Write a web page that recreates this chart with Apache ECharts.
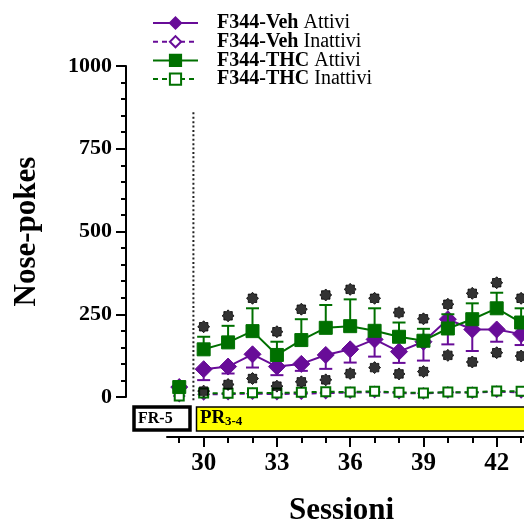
<!DOCTYPE html>
<html><head><meta charset="utf-8">
<script src="https://cdn.jsdelivr.net/npm/echarts@6/dist/echarts.min.js"></script>
<style>html,body{margin:0;padding:0;background:#fff}#c{width:524px;height:524px}</style>
</head><body><div id="c"></div>
<script>
// ---- data ----
const sessions      = [29, 30, 31, 32, 33, 34, 35, 36, 37, 38, 39, 40, 41, 42, 43];
const vehActive     = [30, 84, 92, 129, 92, 100, 127, 144, 174, 137, 167, 235, 204, 204, 190];
const vehActiveSem  = [0, 33, 21, 40, 26, 21, 42, 40, 52, 34, 57, 76, 65, 37, 33];
const vehInactive   = [3, 8, 9, 10, 9, 10, 12, 13, 15, 12, 11, 14, 13, 16, 14];
const thcActive     = [30, 144, 165, 199, 127, 172, 209, 214, 200, 182, 170, 207, 235, 268, 225];
const thcActiveSem  = [0, 38, 50, 69, 40, 63, 69, 81, 68, 43, 36, 43, 48, 47, 43];
const thcInactive   = [3, 12, 11, 13, 12, 14, 16, 15, 17, 14, 12, 15, 14, 18, 17];
const vehSignif     = [0, 1, 1, 1, 1, 1, 1, 1, 1, 1, 1, 1, 1, 1, 1];
const thcSignif     = [0, 1, 1, 1, 1, 1, 1, 1, 1, 1, 1, 1, 1, 1, 1];
const sessionTicks  = ['29','30','31','32','33','34','35','36','37','38','39','40','41','42','43','44','45'];
const majorTicks    = ['30','33','36','39','42','45'];
const phaseBoundary = [29.58, 860, -12];   // session, top, bottom of the dotted divider
const seriesNames   = ['F344-Veh Attivi', 'F344-Veh Inattivi', 'F344-THC Attivi', 'F344-THC Inattivi'];

const PURPLE = '#680C98', GREEN = '#007000';
const FONT = "'Liberation Serif','Times New Roman',serif";
const STAR = 'path://M10,0L12.9,3L17.07,2.93L17,7.1L20,10L17,12.9L17.07,17.07L12.9,17L10,20L7.1,17L2.93,17.07L3,12.9L0,10L3,7.1L2.93,2.93L7.1,3Z';

function pairs(vals, from, to) {
  const out = [];
  for (let i = 0; i < sessions.length; i++) {
    if (sessions[i] >= from && sessions[i] <= to) out.push([sessions[i], vals[i]]);
  }
  return out;
}

function lineSeries(name, vals, color, symbol, size, filled, dashed, z) {
  const base = {
    type: 'line', name: name, xAxisIndex: 0, yAxisIndex: 0, z: z,
    symbol: symbol, symbolSize: size, showSymbol: true,
    lineStyle: { color: color, width: 2, type: dashed ? [5, 4] : 'solid' },
    itemStyle: filled ? { color: color, borderColor: color, borderWidth: 1 }
                      : { color: '#fff', borderColor: color, borderWidth: 2 },
    emphasis: { disabled: true }, animation: false
  };
  return [
    Object.assign({}, base, { data: pairs(vals, 29, 29) }),
    Object.assign({}, base, { data: pairs(vals, 30, 99) })
  ];
}

function errSeries(means, sems, dir, color, z) {
  const data = [];
  for (let i = 0; i < sessions.length; i++) {
    if (sems[i] > 0) data.push([sessions[i], means[i], means[i] + dir * sems[i]]);
  }
  return {
    type: 'custom', xAxisIndex: 0, yAxisIndex: 0, z: z, silent: true, animation: false,
    encode: { x: 0, y: [1, 2] }, data: data,
    renderItem: function (params, api) {
      const x = api.value(0);
      const p0 = api.coord([x, api.value(1)]);
      const p1 = api.coord([x, api.value(2)]);
      const hw = 6.5;
      return { type: 'group', children: [
        { type: 'line', shape: { x1: p0[0], y1: p0[1], x2: p1[0], y2: p1[1] }, style: { stroke: color, lineWidth: 2 } },
        { type: 'line', shape: { x1: p1[0] - hw, y1: p1[1], x2: p1[0] + hw, y2: p1[1] }, style: { stroke: color, lineWidth: 2 } }
      ]};
    }
  };
}

function starSeries(means, sems, flags, dir) {
  const data = [];
  for (let i = 0; i < sessions.length; i++) {
    if (flags[i]) data.push([sessions[i], means[i] + dir * sems[i]]);
  }
  return {
    type: 'scatter', xAxisIndex: 0, yAxisIndex: 0, z: 6, silent: true, animation: false,
    symbol: STAR, symbolSize: 12, symbolOffset: [0, dir > 0 ? -10 : 11],
    itemStyle: { color: '#000', borderColor: '#000', borderWidth: 1 }, data: data
  };
}

const dividerSeries = {
  type: 'custom', xAxisIndex: 0, yAxisIndex: 0, z: 1, silent: true, animation: false, clip: false,
  encode: { x: 0, y: [1, 2] }, data: [phaseBoundary],
  renderItem: function (params, api) {
    const a = api.coord([api.value(0), api.value(1)]);
    const b = api.coord([api.value(0), api.value(2)]);
    return { type: 'line', shape: { x1: a[0], y1: a[1], x2: b[0], y2: b[1] },
      style: { stroke: '#222', lineWidth: 2, lineDash: [2, 2.4] } };
  }
};

const chart = echarts.init(document.getElementById('c'), null, { renderer: 'canvas' });

const series = [].concat(
  dividerSeries,
  errSeries(vehActive, vehActiveSem, -1, PURPLE, 2),
  lineSeries(seriesNames[1], vehInactive, PURPLE, 'diamond', 10, false, true, 3),
  lineSeries(seriesNames[0], vehActive, PURPLE, 'diamond', 17, true, false, 3),
  errSeries(thcActive, thcActiveSem, 1, GREEN, 4),
  lineSeries(seriesNames[3], thcInactive, GREEN, 'rect', 9, false, true, 5),
  lineSeries(seriesNames[2], thcActive, GREEN, 'rect', 13, true, false, 5),
  starSeries(thcActive, thcActiveSem, thcSignif, 1),
  starSeries(vehActive, vehActiveSem, vehSignif, -1)
);

const option = {
  backgroundColor: '#fff',
  animation: false,
  grid: [
    { left: 130.4, top: 66, width: 18 * 24.42, height: 331, outerBoundsMode: 'none', containLabel: false },
    { left: 167, top: 66, width: 17 * 24.42, height: 371, outerBoundsMode: 'none', containLabel: false }
  ],
  title: {
    text: 'Sessioni', left: 289, top: 495, padding: 0,
    textStyle: { fontFamily: FONT, fontWeight: 'bold', fontSize: 31, color: '#000' }
  },
  legend: {
    data: seriesNames, orient: 'vertical', left: 147, top: 8,
    itemWidth: 45, itemHeight: 14, itemGap: -1.3, selectedMode: false,
    formatter: function (name) {
      const parts = name.split(' ');
      return '{b|' + parts[0] + '} {n|' + parts[1] + '}';
    },
    textStyle: {
      fontFamily: FONT, fontSize: 20, color: '#000', lineHeight: 17,
      rich: {
        b: { fontFamily: FONT, fontSize: 20, fontWeight: 'bold', color: '#000', lineHeight: 17, padding: [0, 0, 0, 14] },
        n: { fontFamily: FONT, fontSize: 20, color: '#000', lineHeight: 17 }
      }
    }
  },
  xAxis: [
    { type: 'value', gridIndex: 0, min: 27, max: 45, show: false },
    {
      type: 'category', gridIndex: 1, data: sessionTicks, boundaryGap: true, position: 'bottom',
      axisLine: { show: true, lineStyle: { color: '#000', width: 2 } },
      axisTick: { show: true, alignWithLabel: true, length: 6, lineStyle: { color: '#000', width: 2 } },
      axisLabel: { show: false }, splitLine: { show: false }
    },
    {
      type: 'category', gridIndex: 1, data: sessionTicks, boundaryGap: true, position: 'bottom',
      axisLine: { show: false },
      axisTick: { show: true, alignWithLabel: true, length: 10, lineStyle: { color: '#000', width: 2 },
        interval: function (i, v) { return majorTicks.indexOf(v) >= 0; } },
      axisLabel: { show: true, margin: 14, fontFamily: FONT, fontWeight: 'bold', fontSize: 25, color: '#000',
        interval: function (i, v) { return majorTicks.indexOf(v) >= 0; } },
      splitLine: { show: false }
    }
  ],
  yAxis: [
    {
      type: 'value', gridIndex: 0, min: 0, max: 1000, interval: 250, offset: 4.4,
      name: 'Nose-pokes', nameLocation: 'middle', nameRotate: 90, nameGap: 84,
      nameTextStyle: { fontFamily: FONT, fontWeight: 'bold', fontSize: 31, color: '#000' },
      axisLine: { show: true, lineStyle: { color: '#000', width: 2 } },
      axisTick: { show: true, length: 10, lineStyle: { color: '#000', width: 2 } },
      minorTick: { show: true, splitNumber: 5, length: 5, lineStyle: { color: '#000', width: 2 } },
      axisLabel: { margin: 14, fontFamily: FONT, fontWeight: 'bold', fontSize: 22, color: '#000',
        formatter: function (v) { return String(v); } },
      splitLine: { show: false }, minorSplitLine: { show: false }
    },
    { type: 'value', gridIndex: 1, show: false, min: 0, max: 1 }
  ],
  graphic: [
    { type: 'rect', shape: { x: 134, y: 407, width: 56, height: 23 },
      style: { fill: '#fff', stroke: '#000', lineWidth: 3.5 }, z: 10 },
    { type: 'text', x: 138, y: 418.5, style: { text: 'FR-5', fill: '#000', font: "bold 16px 'Liberation Serif', serif", verticalAlign: 'middle' }, z: 11 },
    { type: 'rect', shape: { x: 196.5, y: 407, width: 360, height: 24 },
      style: { fill: '#FFFF00', stroke: '#000', lineWidth: 1.5 }, z: 10 },
    { type: 'text', x: 200, y: 418, style: { text: 'PR', fill: '#000', font: "bold 19px 'Liberation Serif', serif", verticalAlign: 'middle' }, z: 11 },
    { type: 'text', x: 225, y: 422, style: { text: '3-4', fill: '#000', font: "bold 13px 'Liberation Serif', serif", verticalAlign: 'middle' }, z: 11 }
  ],
  series: series
};
chart.setOption(option);
</script>
</body></html>
